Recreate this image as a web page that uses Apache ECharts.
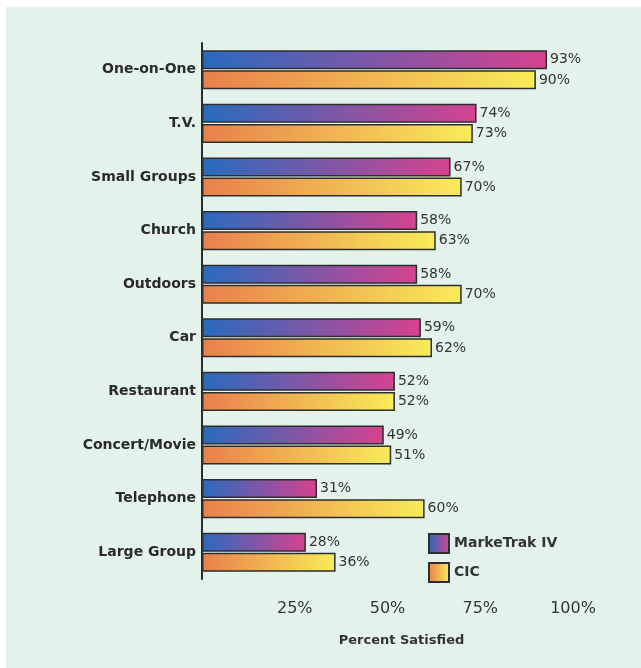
<!DOCTYPE html>
<html>
<head>
<meta charset="utf-8">
<style>
  html, body { margin: 0; padding: 0; background: #fff; }
  #chart { position: absolute; left: 6px; top: 7px; width: 635px; height: 661px; background: #e3f3ec; }
</style>
<script src="https://cdn.jsdelivr.net/npm/echarts@6/dist/echarts.min.js"></script>
</head>
<body>
<div id="chart"></div>
<script>
// categories top to bottom
var categories = ['One-on-One', 'T.V.', 'Small Groups', 'Church', 'Outdoors', 'Car',
    'Restaurant', 'Concert/Movie', 'Telephone', 'Large Group'];
var markeTrak = [93, 74, 67, 58, 58, 59, 52, 49, 31, 28];
var cic = [90, 73, 70, 63, 70, 62, 52, 51, 60, 36];
var tickValues = [25, 50, 75, 100];

var chart = echarts.init(document.getElementById('chart'));

var font = '"DejaVu Sans", sans-serif';

function grad(c1, c2) {
    return new echarts.graphic.LinearGradient(0, 0, 1, 0, [
        { offset: 0, color: c1 }, { offset: 1, color: c2 }
    ]);
}

var labelStyle = {
    show: true,
    position: 'right',
    distance: 3,
    formatter: '{c}%',
    fontFamily: font,
    fontSize: 14,
    color: '#333'
};

var option = {
    backgroundColor: '#e3f3ec',
    animation: false,
    grid: { left: 196, top: 36, width: 371, height: 536 },
    legend: {
        orient: 'vertical',
        left: 417,
        top: 521,
        icon: 'rect',
        itemWidth: 20,
        itemHeight: 19,
        itemGap: 8,
        textStyle: { fontFamily: font, fontWeight: 'bold', fontSize: 14, color: '#333' },
        data: ['MarkeTrak IV', 'CIC']
    },
    xAxis: {
        type: 'value',
        min: 0,
        max: 100,
        interval: 25,
        axisLine: { show: false },
        axisTick: { show: false },
        splitLine: { show: false },
        axisLabel: {
            margin: 22,
            fontFamily: font,
            fontSize: 16,
            color: '#333',
            formatter: function (v) { return tickValues.indexOf(v) >= 0 ? v + '%' : ''; }
        },
        name: 'Percent Satisfied',
        nameLocation: 'middle',
        nameGap: 55,
        nameTextStyle: { fontFamily: font, fontWeight: 'bold', fontSize: 13, color: '#333', padding: [0, 0, 0, 28] }
    },
    yAxis: {
        type: 'category',
        inverse: true,
        data: categories,
        axisLine: { show: true, lineStyle: { color: '#2b2b2b', width: 2 } },
        axisTick: { show: false },
        axisLabel: {
            margin: 6,
            fontFamily: font,
            fontWeight: 'bold',
            fontSize: 14,
            color: '#2a2a2a'
        }
    },
    series: [
        {
            name: 'MarkeTrak IV',
            type: 'bar',
            data: markeTrak,
            barWidth: 19,
            barGap: '6%',
            itemStyle: { color: grad('#286bbe', '#d6428f'), borderColor: '#2e2e2e', borderWidth: 1.5 },
            label: labelStyle
        },
        {
            name: 'CIC',
            type: 'bar',
            data: cic,
            barWidth: 19,
            itemStyle: { color: grad('#e97f4c', '#f8ec58'), borderColor: '#2e2e2e', borderWidth: 1.5 },
            label: labelStyle
        }
    ]
};

chart.setOption(option);
</script>
</body>
</html>
